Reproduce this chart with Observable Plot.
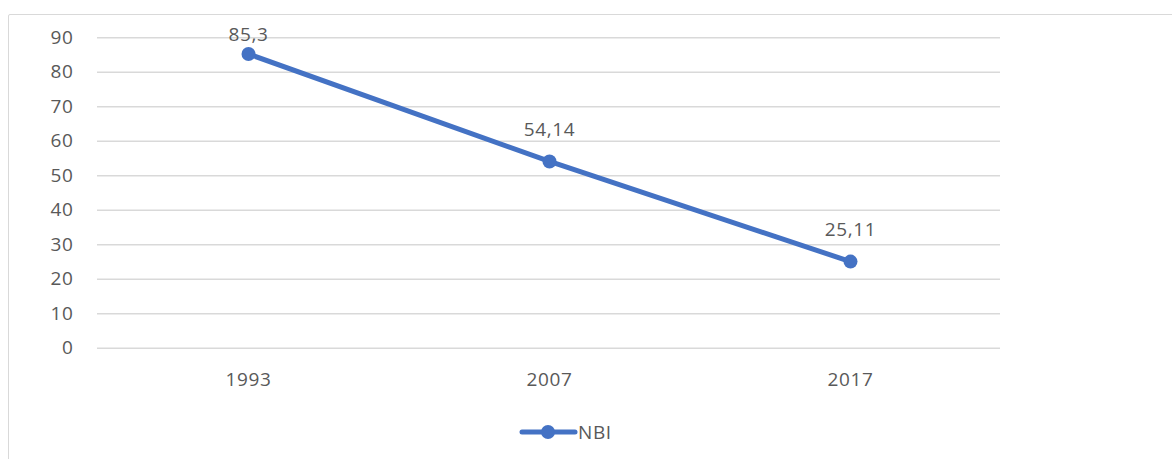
<!DOCTYPE html>
<html>
<head>
<meta charset="utf-8">
<script src="https://cdn.jsdelivr.net/npm/d3@7"></script>
<script src="https://cdn.jsdelivr.net/npm/@observablehq/plot@0.6"></script>
<style>
  html, body { margin: 0; padding: 0; background: #fff; width: 1172px; height: 459px; overflow: hidden; }
  #frame { position: absolute; left: 8px; top: 14px; width: 1300px; height: 600px; border: 1px solid #d9d9d9; border-radius: 2px; }
  #chart { position: absolute; left: 0; top: 0; }
  #legend { position: absolute; left: 518px; top: 419px; display: flex; align-items: center; font-family: "Open Sans", sans-serif; font-size: 19px; letter-spacing: 0.6px; color: #595959; }
</style>
</head>
<body>
<div id="frame"></div>
<div id="chart"></div>
<div id="legend">
  <svg width="60" height="26"><line x1="4" y1="13" x2="57" y2="13" stroke="#4472C4" stroke-width="5" stroke-linecap="round"/><circle cx="30" cy="13" r="7" fill="#4472C4"/></svg>
  <span>NBI</span>
</div>
<script>
const years = ["1993", "2007", "2017"];
const nbi = [85.3, 54.14, 25.11];
const labels = ["85,3", "54,14", "25,11"];
const yTicks = [0, 10, 20, 30, 40, 50, 60, 70, 80, 90];
const seriesName = "NBI";

const data = years.map((y, i) => ({year: y, value: nbi[i], label: labels[i], series: seriesName}));

const color = "#4472C4";
const textColor = "#595959";
const labelDy = -32;
const minLabelCenter = 34.5;

const plot = Plot.plot({
  width: 1172,
  height: 400,
  marginLeft: 97,
  marginRight: 172,
  marginTop: 37.3,
  marginBottom: 52.3,
  style: {fontFamily: "'Open Sans', sans-serif", fontSize: "19px", color: textColor, background: "transparent", letterSpacing: "0.6px"},
  x: {type: "point", domain: years, padding: 0.5, label: null, tickSize: 0, tickPadding: 24},
  y: {domain: [0, 90], ticks: yTicks, label: null, tickSize: 0, tickPadding: 24, tickFormat: d => String(d)},
  marks: [
    Plot.gridY(yTicks, {stroke: "#d9d9d9", strokeOpacity: 1, strokeWidth: 1.5}),
    Plot.line(data, {x: "year", y: "value", stroke: color, strokeWidth: 5, strokeLinecap: "round"}),
    Plot.dot(data, {x: "year", y: "value", r: 7, fill: color}),
    Plot.text(data, {x: "year", y: "value", text: "label", dy: labelDy, fill: textColor, className: "datalabels"})
  ]
});
document.getElementById("chart").appendChild(plot);

// keep data labels inside the chart area (like the original layout)
d3.select(plot).selectAll(".datalabels text").each(function() {
  const t = d3.select(this);
  const tr = t.attr("transform");
  if (tr) {
    const m = /translate\(\s*([-\d.e]+)[ ,]+([-\d.e]+)\s*\)/.exec(tr);
    if (m) {
      const x = +m[1], y = +m[2];
      if (y + labelDy < minLabelCenter) t.attr("transform", `translate(${x},${minLabelCenter - labelDy})`);
    }
  } else {
    const y = +t.attr("y");
    if (y + labelDy < minLabelCenter) t.attr("y", minLabelCenter - labelDy);
  }
});
</script>
</body>
</html>
